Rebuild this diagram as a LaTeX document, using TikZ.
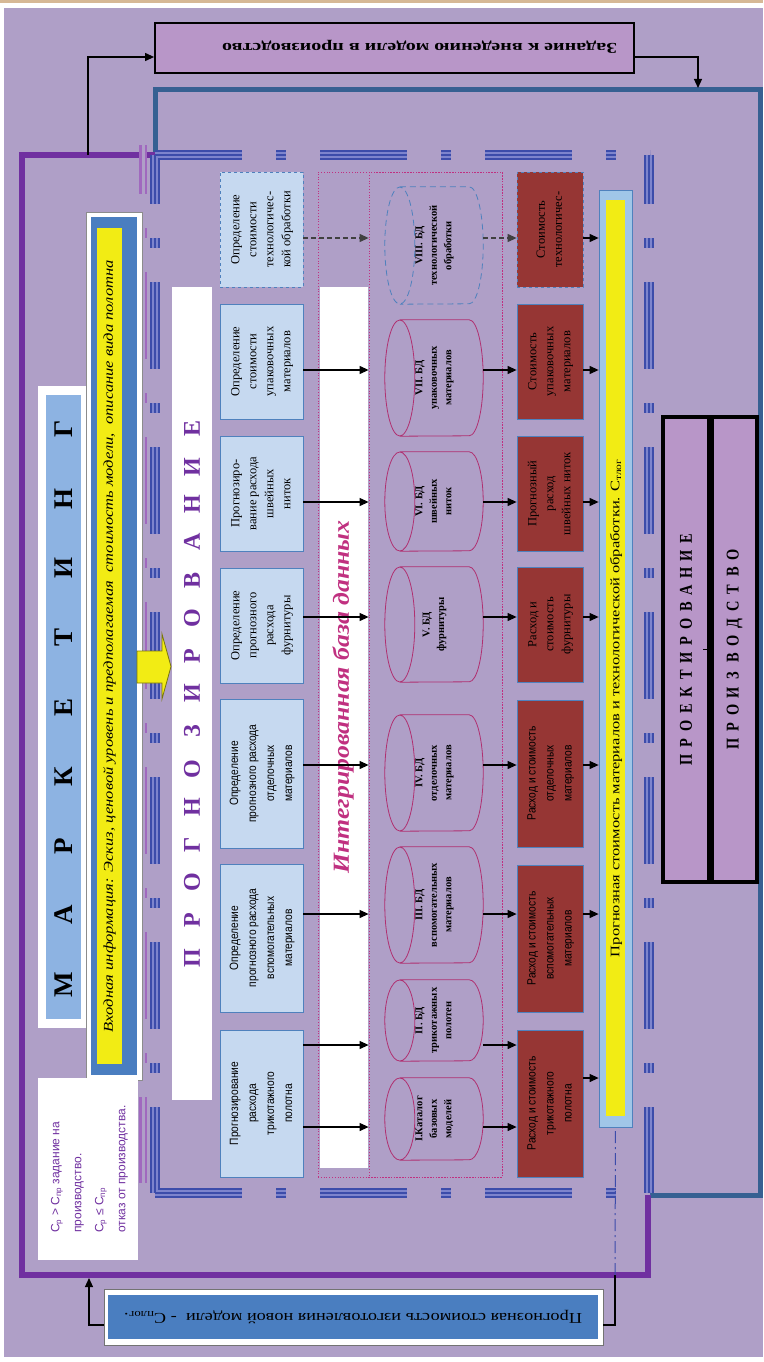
\documentclass[tikz,border=0pt]{standalone}
\usepackage{fontspec}
\setmainfont{Liberation Serif}
\setsansfont{Liberation Sans}
\newfontfamily\narrowsans[FakeStretch=0.85]{Liberation Sans}
\newfontfamily\narrowserif[FakeStretch=0.8]{Liberation Serif}
\usepackage{graphicx}
\usepackage{tikz}
\usetikzlibrary{arrows.meta, positioning, calc}
\definecolor{bglav}{RGB}{175,159,199}
\definecolor{frmpurple}{RGB}{112,48,160}
\definecolor{frmblue}{RGB}{54,96,146}
\definecolor{dashblue}{RGB}{60,76,170}
\definecolor{dashlight}{RGB}{125,132,205}
\definecolor{pinkline}{RGB}{160,105,190}
\definecolor{boxblue}{RGB}{79,129,189}
\definecolor{paleblue}{RGB}{198,217,240}
\definecolor{mkblue}{RGB}{141,179,226}
\definecolor{brick}{RGB}{150,54,52}
\definecolor{hiyellow}{RGB}{242,236,20}
\definecolor{midblue}{RGB}{74,126,192}
\definecolor{skyblue}{RGB}{160,198,232}
\definecolor{dbpink}{RGB}{192,48,128}
\definecolor{cylpink}{RGB}{176,48,112}
\definecolor{orchid}{RGB}{184,150,200}
\definecolor{toptan}{RGB}{214,184,150}
% rotated text block
\newcommand{\up}[1]{\rotatebox{90}{\begin{tabular}{@{}c@{}}#1\end{tabular}}}
% letters on a fixed pitch
\newcommand{\spreadtext}[2]{\def\spw{#1}\spreadaux#2\relax}
\def\spreadaux#1{\ifx\relax#1\else\makebox[\spw]{#1}\expandafter\spreadaux\fi}
% database cylinder round a node
\newcommand{\cylshape}[3][]{%
  \draw[cylline,#1] ([xshift=15pt]#2.north west) -- ([xshift=-14pt]#2.north east)
    arc[start angle=90, end angle=-90, x radius=14pt, y radius=#3pt]
    -- ([xshift=15pt]#2.south west)
    ([xshift=15pt]#2.west) ellipse[x radius=15pt, y radius=#3pt];}
\tikzset{
  progbox/.style={rectangle, draw=boxblue, fill=paleblue, line width=0.8pt,
    minimum width=83pt, inner sep=0pt, font=\fontsize{12.5}{17}\selectfont},
  progsans/.style={progbox, font=\narrowsans\fontsize{12}{18}\selectfont},
  costbox/.style={rectangle, draw=boxblue, fill=brick, line width=0.8pt,
    minimum width=66pt, inner sep=0pt, font=\fontsize{12.5}{17}\selectfont},
  costsans/.style={costbox, font=\narrowsans\fontsize{12}{18}\selectfont},
  dbbox/.style={rectangle, inner sep=0pt, minimum width=98pt,
    font=\bfseries\fontsize{10.5}{14.5}\selectfont},
  cylline/.style={draw=cylpink, line width=0.8pt},
  bigbox/.style={rectangle, draw=black, line width=3.5pt, fill=orchid,
    minimum width=44pt, minimum height=465pt, inner sep=0pt},
  plain/.style={rectangle, inner sep=0pt},
  arrow/.style={-{Triangle[length=9pt,width=8pt]}, line width=1.1pt, color=black},
  dline/.style={dash pattern=on 5pt off 3pt, color=black!75},
  line/.style={line width=1.1pt, color=black},
  fside/.style={line cap=butt, dash pattern=on 87pt off 34pt on 10pt off 34pt}
}
\begin{document}
\begin{tikzpicture}[x=1pt, y=-1pt]
  \useasboundingbox (0,0) rectangle (763,1362);
  \fill[toptan] (0,0) rectangle (763,3);
  \fill[bglav] (4,8) rectangle (763,1357);

  % Frames
  \draw[frmblue, line width=5pt] (155,155) -- (155,90) -- (760,90) -- (760,1195) -- (650,1195);
  \draw[frmpurple, line width=6pt] (155,155) -- (22,155) -- (22,1275) -- (648,1275) -- (648,1195);
  \foreach \w/\c in {8pt/pinkline, 3pt/bglav}
    \draw[fside, dash phase=38pt, line width=\w, color=\c] (143,145) -- (143,1183);
  \foreach \w/\c in {10pt/dashblue, 6pt/dashlight, 2pt/dashblue} {
    \draw[fside, line width=\w, color=\c] (155,155) -- (650,155);
    \draw[fside, line width=\w, color=\c] (155,1193) -- (650,1193);
    \draw[fside, dash phase=38pt, line width=\w, color=\c] (155,155) -- (155,1193);
    \draw[fside, dash phase=38pt, line width=\w, color=\c] (649,155) -- (649,1193);
  }

  % Top and bottom boxes
  \node[rectangle, draw=black, line width=1.8pt, fill=orchid, minimum width=479pt,
    minimum height=50pt] (task) at (394.5,48) {};
  \node[plain, font=\bfseries\fontsize{15}{18}\selectfont] (tasktxt) at (419.5,47)
    {\rotatebox{180}{\resizebox{395pt}{\height}{Задание к внедению модели в производство}}};
  \node[rectangle, draw=black!55, line width=0.8pt, fill=white, minimum width=499pt,
    minimum height=56pt] (resultfr) at (353.5,1317) {};
  \node[rectangle, fill=midblue, minimum width=490pt, minimum height=44pt, inner sep=0pt,
    font=\fontsize{15}{18}\selectfont] (result) at (353,1317)
    {\rotatebox{180}{\resizebox{458pt}{\height}{Прогнозная стоимость изготовления новой модели\ \ - С\textsubscript{плог}.}}};

  % Marketing, input, forecast titles
  \node[rectangle, fill=white, minimum width=49pt, minimum height=642pt] (mkframe) at (62.5,707) {};
  \node[rectangle, fill=mkblue, minimum width=35pt, minimum height=620pt, inner sep=0pt,
    font=\bfseries\fontsize{27}{30}\selectfont] (mk) at (63.5,707)
    {\rotatebox{90}{\spreadtext{69.4pt}{МАРКЕТИНГ}}};
  \node[rectangle, draw=black!45, line width=1pt, fill=white, minimum width=56pt,
    minimum height=868pt] (inframe) at (114,646) {};
  \node[rectangle, fill=midblue, minimum width=46pt, minimum height=858pt] (inblue) at (114,646) {};
  \node[rectangle, fill=hiyellow, minimum width=25pt, minimum height=836pt, inner sep=0pt,
    font=\itshape\fontsize{13.5}{16}\selectfont] (intext) at (109.5,646)
    {\rotatebox{90}{\resizebox{772pt}{\height}{Входная информация: Эскиз, ценовой уровень и предполагаемая\ \ стоимость модели,\ \ описание вида полотна}}};
  \node[rectangle, fill=white, minimum width=40pt, minimum height=813pt, inner sep=0pt,
    text=frmpurple, font=\bfseries\fontsize{24}{26}\selectfont] (prgttl) at (192,693.5)
    {\rotatebox{90}{\spreadtext{37.8pt}{ПРОГНОЗИРОВАНИЕ}}};
  \node[rectangle, fill=white, minimum width=100pt, minimum height=182pt, inner sep=0pt,
    text=frmpurple, font=\sffamily\fontsize{12}{22}\selectfont] (note) at (88,1169)
    {\rotatebox{90}{\begin{tabular}{@{}l@{}}С\textsubscript{р} > С\textsubscript{пр} задание на\\
      производство.\\ С\textsubscript{р} ≤ С\textsubscript{пр}\\ отказ от производства.\end{tabular}}};
  \draw[fill=hiyellow, draw=black!50!hiyellow, line width=0.8pt]
    (137,651) -- (162,651) -- (162,634) -- (171,666.5) -- (162,699) -- (162,683) -- (137,683) -- cycle;

  % Forecast blocks
  \node[progbox, dashed, minimum height=115pt] (prog1) at (261.5,229.5)
    {\up{Определение\\стоимости\\технологичес-\\кой обработки}};
  \node[progbox, minimum height=115pt] (prog2) at (261.5,361.5)
    {\up{Определение\\стоимости\\упаковочных\\материалов}};
  \node[progbox, minimum height=115pt] (prog3) at (261.5,493.5)
    {\up{Прогнозиро-\\вание расхода\\швейных\\ниток}};
  \node[progbox, minimum height=115pt] (prog4) at (261.5,625.5)
    {\up{Определение\\прогнозного\\расхода\\фурнитуры}};
  \node[progsans, minimum height=149pt] (prog5) at (261.5,773.5)
    {\up{Определение\\прогнозного расхода\\отделочных\\материалов}};
  \node[progsans, minimum height=148pt] (prog6) at (261.5,938)
    {\up{Определение\\прогнозного расхода\\вспомогательных\\материалов}};
  \node[progsans, minimum height=147pt] (prog7) at (261.5,1103.5)
    {\up{Прогнозирование\\расхода\\трикотажного\\полотна}};

  % Integrated database
  \node[rectangle, draw=dbpink, dotted, line width=0.8pt, minimum width=184pt,
    minimum height=1005pt] (dbzone) at (410,674.5) {};
  \node[rectangle, draw=dbpink, dotted, line width=0.8pt, minimum width=133pt,
    minimum height=1005pt] (dbin) at (435.5,674.5) {};
  \node[rectangle, fill=white, minimum width=48pt, minimum height=881pt] (dbwhite) at (344,727.5) {};
  \node[plain, text=dbpink, font=\bfseries\itshape\fontsize{23}{26}\selectfont] (dbtitle) at (343,697)
    {\rotatebox{90}{\resizebox{353pt}{\height}{Интегрированная база данных}}};

  \node[dbbox, minimum height=117pt] (bd8) at (434,245.5) {\up{VIII. БД\\технологической\\обработки}};
  \node[dbbox, minimum height=116pt] (bd7) at (434,378) {\up{VII. БД\\упаковочных\\материалов}};
  \node[dbbox, minimum height=99pt] (bd6) at (434,501.5) {\up{VI. БД\\швейных\\ниток}};
  \node[dbbox, minimum height=115pt] (bd5) at (434,624.5) {\up{V. БД\\фурнитуры}};
  \node[dbbox, minimum height=116pt] (bd4) at (434,773) {\up{IV. БД\\отделочных\\материалов}};
  \node[dbbox, minimum height=116pt] (bd3) at (434,905) {\up{III. БД\\вспомогательных\\материалов}};
  \node[dbbox, minimum height=81pt] (bd2) at (434,1020.5) {\up{II. БД\\трикотажных\\полотен}};
  \node[dbbox, minimum height=82pt] (bd1) at (434,1119) {\up{I.Каталог\\базовых\\моделей}};
  \cylshape[draw=boxblue, dash pattern=on 6pt off 4pt]{bd8}{58.5}
  \cylshape{bd7}{58}
  \cylshape{bd6}{49.5}
  \cylshape{bd5}{57.5}
  \cylshape{bd4}{58}
  \cylshape{bd3}{58}
  \cylshape{bd2}{40.5}
  \cylshape{bd1}{41}

  % Cost blocks
  \node[costbox, dashed, minimum height=115pt] (cost1) at (550,229.5) {\up{Стоимость\\технологичес-}};
  \node[costbox, minimum height=115pt] (cost2) at (550,361.5) {\up{Стоимость\\упаковочных\\материалов}};
  \node[costbox, minimum height=115pt] (cost3) at (550,493.5) {\up{Прогнозный\\расход\\швейных ниток}};
  \node[costbox, minimum height=115pt] (cost4) at (550,624.5) {\up{Расход и\\стоимость\\фурнитуры}};
  \node[costsans, minimum height=147pt] (cost5) at (550,773.5) {\up{Расход и стоимость\\отделочных\\материалов}};
  \node[costsans, minimum height=147pt] (cost6) at (550,938.5) {\up{Расход и стоимость\\вспомогательных\\материалов}};
  \node[costsans, minimum height=147pt] (cost7) at (550,1103.5) {\up{Расход и стоимость\\трикотажного\\полотна}};

  % Total forecast
  \node[rectangle, draw=boxblue, fill=skyblue, line width=0.8pt, minimum width=33pt,
    minimum height=937pt] (total) at (615.5,658.5) {};
  \node[rectangle, fill=hiyellow, minimum width=19pt, minimum height=916pt] (totin) at (615.5,658) {};
  \node[plain, font=\fontsize{13}{15}\selectfont] (tottxt) at (616,708)
    {\rotatebox{90}{\resizebox{498pt}{\height}{Прогнозная стоимость материалов и технологической обработки. С\textsubscript{тлог}}}};

  % Design and production
  \node[bigbox, minimum width=46pt] (proekt) at (686,649.5)
    {\rotatebox{90}{\narrowserif\bfseries\fontsize{18}{20}\selectfont\spreadtext{17pt}{ПРОЕКТИРОВАНИЕ}}};
  \node[bigbox, minimum width=45pt] (proiz) at (734.5,649.5)
    {\rotatebox{90}{\narrowserif\bfseries\fontsize{18}{20}\selectfont\spreadtext{17.2pt}{ПРОИЗВОДСТВО}}};
  \draw[line] ([xshift=-8pt]proekt.east) -- (proiz.west);
  \fill (proekt.east) circle (2pt);

  % Rows
  \coordinate (r1) at (0,238);
  \coordinate (r2) at (0,370);
  \coordinate (r3) at (0,502);
  \coordinate (r4) at (0,617);
  \coordinate (r5) at (0,765);
  \coordinate (r6) at (0,914);
  \coordinate (r7) at (0,1045);
  \coordinate (r8) at (0,1127);
  \coordinate (r9) at (0,1078);

  \draw[arrow, dline] (prog1.east |- r1) -- (dbin.west |- r1);
  \draw[arrow, dline] (bd8.east |- r1) -- (cost1.west |- r1);
  \draw[arrow] (cost1.east |- r1) -- (total.west |- r1);
  \draw[arrow] (prog2.east |- r2) -- (dbin.west |- r2);
  \draw[arrow] (bd7.east |- r2) -- (cost2.west |- r2);
  \draw[arrow] (cost2.east |- r2) -- (total.west |- r2);
  \draw[arrow] (prog3.east |- r3) -- (dbin.west |- r3);
  \draw[arrow] (bd6.east |- r3) -- (cost3.west |- r3);
  \draw[arrow] (cost3.east |- r3) -- (total.west |- r3);
  \draw[arrow] (prog4.east |- r4) -- (dbin.west |- r4);
  \draw[arrow] (bd5.east |- r4) -- (cost4.west |- r4);
  \draw[arrow] (cost4.east |- r4) -- (total.west |- r4);
  \draw[arrow] (prog5.east |- r5) -- (dbin.west |- r5);
  \draw[arrow] (bd4.east |- r5) -- (cost5.west |- r5);
  \draw[arrow] (cost5.east |- r5) -- (total.west |- r5);
  \draw[arrow] (prog6.east |- r6) -- (dbin.west |- r6);
  \draw[arrow] (bd3.east |- r6) -- (cost6.west |- r6);
  \draw[arrow] (cost6.east |- r6) -- (total.west |- r6);
  \draw[arrow] (prog7.east |- r7) -- (dbin.west |- r7);
  \draw[arrow] (prog7.east |- r8) -- (dbin.west |- r8);
  \draw[arrow] (bd2.east |- r7) -- (cost7.west |- r7);
  \draw[arrow] (bd1.east |- r8) -- (cost7.west |- r8);
  \draw[arrow] (cost7.east |- r9) -- (total.west |- r9);

  % Feedback lines
  \coordinate (pft) at (88,155);
  \coordinate (rt) at (0,57);
  \coordinate (bft) at (698,88);
  \draw[arrow] (pft) |- (task.west |- rt);
  \draw[arrow] (task.east |- rt) -| (bft);
  \coordinate (pfb) at (89,1278);
  \coordinate (pfr) at (615,1275);
  \coordinate (rb) at (0,1325);
  \draw[arrow] (resultfr.west |- rb) -| (pfb);
  \draw[line] (resultfr.east |- rb) -| (pfr);
  \draw[dashblue, line width=1pt, dash pattern=on 12pt off 4pt on 2pt off 4pt] (pfr) -- (total.south);
\end{tikzpicture}
\end{document}
